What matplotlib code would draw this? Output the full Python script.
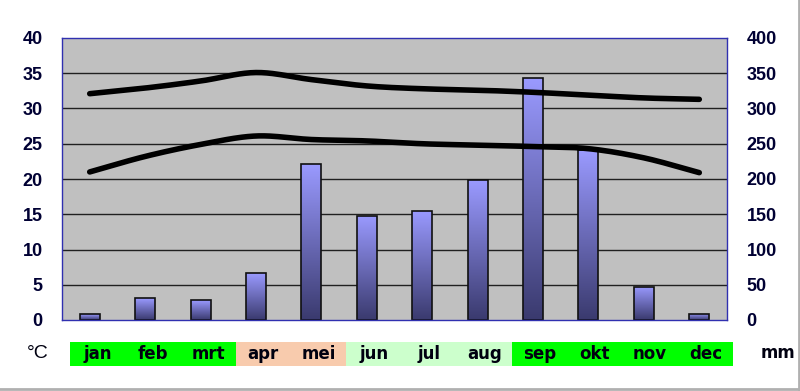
import numpy as np
import matplotlib.pyplot as plt
from matplotlib.patches import Rectangle
from matplotlib.lines import Line2D

plt.rcParams['font.family'] = ['Liberation Sans', 'DejaVu Sans']

# data
maanden = ['jan', 'feb', 'mrt', 'apr', 'mei', 'jun', 'jul', 'aug', 'sep', 'okt', 'nov', 'dec']
neerslag_mm = [8, 31, 28, 66, 221, 148, 155, 198, 343, 241, 47, 9]
temp_max = [32.1, 32.9, 33.9, 35.1, 34.1, 33.2, 32.8, 32.6, 32.3, 31.9, 31.5, 31.3]
temp_min = [21.0, 23.2, 24.9, 26.1, 25.6, 25.4, 25.0, 24.8, 24.6, 24.3, 23.0, 20.9]
maand_kleur = ['#00ff00'] * 3 + ['#f8cbad'] * 2 + ['#ccffcc'] * 3 + ['#00ff00'] * 4
links_ticks = [0, 5, 10, 15, 20, 25, 30, 35, 40]
rechts_ticks = [0, 50, 100, 150, 200, 250, 300, 350, 400]

tick_kleur = '#000033'


def glad(x, y, n=20):
    # catmull-rom curve through the points (smoothed line like in excel)
    x = np.asarray(x, float)
    y = np.asarray(y, float)
    px = np.concatenate([[2 * x[0] - x[1]], x, [2 * x[-1] - x[-2]]])
    py = np.concatenate([[2 * y[0] - y[1]], y, [2 * y[-1] - y[-2]]])
    xs, ys = [], []
    t = np.linspace(0, 1, n, endpoint=False)
    for i in range(1, len(px) - 2):
        for p, out in ((px, xs), (py, ys)):
            p0, p1, p2, p3 = p[i - 1], p[i], p[i + 1], p[i + 2]
            out.extend(0.5 * (2 * p1 + (-p0 + p2) * t + (2 * p0 - 5 * p1 + 4 * p2 - p3) * t ** 2
                              + (-p0 + 3 * p1 - 3 * p2 + p3) * t ** 3))
    xs.append(x[-1])
    ys.append(y[-1])
    return np.array(xs), np.array(ys)


fig = plt.figure(figsize=(8, 3.91), dpi=100)
ax = fig.add_axes([62 / 800, 71 / 391, 665 / 800, 282 / 391])
ax.set_xlim(-0.5, 11.5)
ax.set_ylim(0, 40)
for s in ax.spines.values():
    s.set_color('#3030b0')
    s.set_linewidth(1)

ax.set_yticks(links_ticks)
ax.tick_params(axis='y', length=0, pad=14, labelsize=13, labelcolor=tick_kleur)
for lab in ax.get_yticklabels():
    lab.set_fontweight('bold')
ax.set_xticks([])

ax2 = ax.twinx()
ax2.set_ylim(0, 400)
ax2.set_yticks(rechts_ticks)
ax2.tick_params(axis='y', length=0, pad=14, labelsize=13, labelcolor=tick_kleur)
for lab in ax2.get_yticklabels():
    lab.set_fontweight('bold')
for s in ax2.spines.values():
    s.set_visible(False)

# gridlines behind the bars
for v in rechts_ticks[1:-1]:
    ax2.axhline(v, color='#202020', linewidth=1, zorder=1)

# bars with vertical gradient
grad = np.linspace(0, 1, 256).reshape(-1, 1)
cmap = plt.matplotlib.colors.LinearSegmentedColormap.from_list('b', ['#3a3a6e', '#9a9aff'])
x = np.arange(12)
bars = ax2.bar(x, neerslag_mm, width=0.36, color='none', edgecolor='#101010', linewidth=1.2, zorder=3)
for b in bars:
    bx, by, bw, bh = b.get_x(), b.get_y(), b.get_width(), b.get_height()
    im = ax2.imshow(grad, extent=[bx, bx + bw, by, by + bh], aspect='auto', cmap=cmap,
                    origin='lower', zorder=2)
    im.set_clip_path(b)
ax2.set_xlim(-0.5, 11.5)
ax2.set_ylim(0, 400)

# temperature lines
for reeks in (temp_max, temp_min):
    gx, gy = glad(x, reeks)
    ax.plot(gx, gy, color='black', linewidth=4, solid_capstyle='round', zorder=4)
ax.set_zorder(ax2.get_zorder() + 1)
ax.patch.set_visible(False)
ax2.patch.set_visible(True)
ax2.patch.set_facecolor('#c0c0c0')

# month boxes
box_l, box_w = 70 / 800, 55.25 / 800
box_b, box_h = (391 - 366) / 391, 24 / 391
for i, (m, c) in enumerate(zip(maanden, maand_kleur)):
    fig.patches.append(Rectangle((box_l + i * box_w, box_b), box_w, box_h, transform=fig.transFigure,
                                 facecolor=c, edgecolor='none'))
    fig.text(box_l + (i + 0.5) * box_w, box_b + box_h / 2, m, ha='center', va='center',
             fontsize=12, fontweight='bold', color='#000010', family='DejaVu Sans')

fig.text(38 / 800, 1 - 353 / 391, '°C', ha='center', va='center', fontsize=14, color='#000010')
fig.text(778 / 800, 1 - 353 / 391, 'mm', ha='center', va='center', fontsize=12, fontweight='bold',
         color='#000010', family='DejaVu Sans')

# light gray edge at the bottom and right of the picture
fig.lines.append(Line2D([0, 0.999], [0.004, 0.004], transform=fig.transFigure, color='#b0b0b0', linewidth=2))
fig.lines.append(Line2D([0.999, 0.999], [0.004, 1], transform=fig.transFigure, color='#b0b0b0', linewidth=2))

fig.savefig('out.png', dpi=100)
